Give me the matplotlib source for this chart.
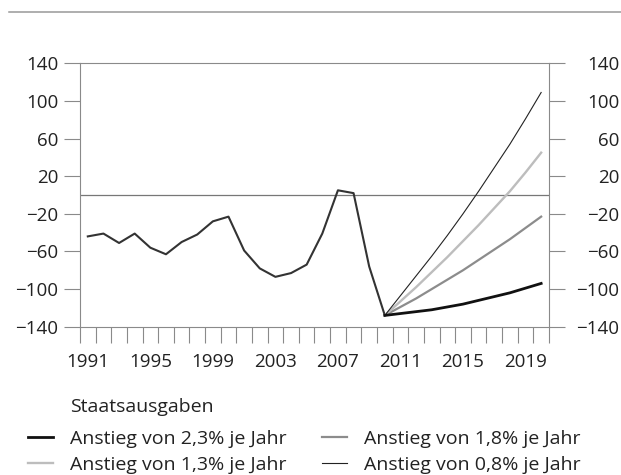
import matplotlib.pyplot as plt
import matplotlib.transforms as mtrans
from matplotlib.lines import Line2D

plt.rcParams['font.family'] = ['Open Sans', 'DejaVu Sans']

# historical budget balance, 1991-2010
years_hist = list(range(1991, 2011))
saldo_hist = [-44, -41, -51, -41, -56, -63, -50, -42, -28, -23,
              -59, -78, -87, -83, -74, -41, 5, 2, -76, -128]

# projections 2010-2020 for different spending growth rates
years_proj = list(range(2010, 2021))
proj_23 = [-128, -126, -124, -122, -119, -116, -112, -108, -104, -99, -94]
proj_18 = [-128, -119, -110, -100, -90, -80, -69, -58, -47, -35, -23]
proj_13 = [-128, -113, -98, -82, -66, -49, -32, -14, 4, 24, 45]
proj_08 = [-128, -107, -86, -65, -43, -20, 4, 29, 54, 81, 109]

year_labels = [1991, 1995, 1999, 2003, 2007, 2011, 2015, 2019]
y_ticks = [140, 100, 60, 20, -20, -60, -100, -140]
legend_title = 'Staatsausgaben'
legend_left = ['Anstieg von 2,3% je Jahr', 'Anstieg von 1,3% je Jahr']
legend_right = ['Anstieg von 1,8% je Jahr', 'Anstieg von 0,8% je Jahr']

grey = '#8a8a8a'
text_col = '#222222'
fs = 13.5
fs_leg = 14

fig = plt.figure(figsize=(6.21, 4.75), dpi=100)
ax = fig.add_axes([0.1288, 0.3122, 0.7552, 0.5545])

ax.axhline(0, color='#777777', lw=0.9, zorder=1)
ax.plot(years_hist, saldo_hist, color='#333333', lw=1.5, zorder=3)

l23, = ax.plot(years_proj, proj_23, color='#111111', lw=2.0, zorder=4)
l18, = ax.plot(years_proj, proj_18, color='#8c8c8c', lw=1.6, zorder=3)
l13, = ax.plot(years_proj, proj_13, color='#bdbdbd', lw=1.7, zorder=3)
l08, = ax.plot(years_proj, proj_08, color='#222222', lw=0.8, zorder=3)

ax.set_xlim(1990.5, 2020.5)
ax.set_ylim(-140, 140)

# ticks sit between the years, labels on the years themselves
ax.set_xticks([1990.5 + k for k in range(31)])
ax.set_xticklabels([])
ax.set_xticks(year_labels, minor=True)
ax.set_xticklabels([str(y) for y in year_labels], minor=True)
ax.tick_params(axis='x', which='major', direction='out', length=11.5,
               width=0.8, color=grey)
ax.tick_params(axis='x', which='minor', length=0, pad=19,
               labelsize=fs, labelcolor=text_col)

ax.set_yticks(y_ticks)
ax.set_yticklabels([str(v).replace('-', '\u2212') for v in y_ticks])
ax.tick_params(axis='y', direction='out', length=11.5, width=0.8,
               color=grey, labelsize=fs, labelcolor=text_col, pad=4,
               left=True, right=True, labelleft=True, labelright=True)

# right-hand labels: right aligned, flush with the figure edge
shift = mtrans.ScaledTranslation(35 / 72, 0, fig.dpi_scale_trans)
for t in ax.yaxis.get_major_ticks():
    t.label2.set_horizontalalignment('right')
    t.label2.set_transform(t.label2.get_transform() + shift)

for s in ax.spines.values():
    s.set_color(grey)
    s.set_linewidth(0.8)

# rule across the top
fig.add_artist(Line2D([0.0145, 1.0], [0.9737, 0.9737], color='#999999',
                      lw=1.1, transform=fig.transFigure))

fig.text(70 / 621, 1 - 407 / 475, legend_title, fontsize=fs_leg,
         color=text_col, va='center', ha='left')

leg_kw = dict(frameon=False, loc='center left', fontsize=fs_leg,
              handlelength=1.3, handletextpad=0.85, labelspacing=0.42,
              labelcolor=text_col, borderaxespad=0, borderpad=0)
fig.legend([l23, l13], legend_left,
           bbox_to_anchor=(28 / 621, 1 - 452 / 475), **leg_kw)
fig.legend([l18, l08], legend_right,
           bbox_to_anchor=(322 / 621, 1 - 452 / 475), **leg_kw)

fig.savefig('out.png', dpi=100)
